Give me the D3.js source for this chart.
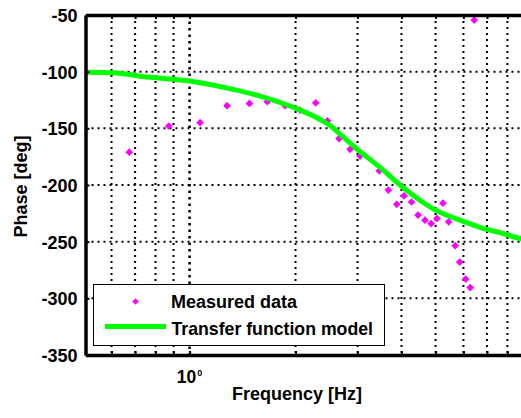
<!DOCTYPE html>
<html>
<head>
<meta charset="utf-8">
<script src="https://cdn.jsdelivr.net/npm/d3@7"></script>
<style>
  html, body { margin: 0; padding: 0; background: #fff; overflow: hidden; }
  svg { display: block; }
  text { font-family: "Liberation Sans", Arial, sans-serif; font-weight: bold; fill: #000; }
</style>
</head>
<body>
<svg id="chart" width="521" height="418"></svg>
<script>
// ---- data ----
const measuredFreq = [0.674, 0.873, 1.071, 1.278, 1.479, 1.663, 1.868, 2.06, 2.283, 2.464, 2.659, 2.858, 3.051,
  3.46, 3.671, 3.879, 4.069, 4.273, 4.458, 4.667, 4.855, 5.047, 5.248, 5.449, 5.686, 5.856, 6.09, 6.272, 6.44];
const measuredPhase = [-171, -148, -145, -130, -128, -126.5, -130, -134, -127.5, -143.5, -159, -168.5, -174.5,
  -187.5, -204.5, -217, -209.5, -215, -226.5, -231, -234, -229.5, -216, -232.5, -253.5, -268, -283, -290.5, -54.5];

const modelFreq = [0.506, 0.6, 0.772, 1.0, 1.329, 1.586, 2.003, 2.349, 2.507, 2.73, 2.952, 3.477, 3.963,
  4.516, 4.982, 5.868, 6.689, 7.62, 8.746, 10];
const modelPhase = [-100.5, -101, -105, -108.2, -115.6, -121.5, -132.3, -142.2, -147.5, -157.6, -166.9, -184.5, -200,
  -213.5, -222, -231, -237.3, -242, -247.5, -251];

const yTicks = [-50, -100, -150, -200, -250, -300, -350];
const xMinorGrid = [0.6, 0.7, 0.8, 0.9, 2, 3, 4, 5, 6, 7, 8, 9];
const xMajorGrid = [1, 10];
const seriesLabels = ["Measured data", "Transfer function model"];
const xLabel = "Frequency [Hz]";
const yLabel = "Phase [deg]";

// ---- scales ----
const pLeft = 85.5, pTop = 15, pBottom = 355, pRight = 541.5;
const x = d3.scaleLog().domain([0.506, 10]).range([pLeft, pRight]);
const y = d3.scaleLinear().domain([-350, -50]).range([pBottom, pTop]);

const svg = d3.select("#chart");

svg.append("defs").append("clipPath").attr("id", "clip")
  .append("rect").attr("x", pLeft).attr("y", pTop).attr("width", pRight - pLeft).attr("height", pBottom - pTop);

const plot = svg.append("g");

// ---- grid ----
const grid = plot.append("g").attr("clip-path", "url(#clip)");
grid.selectAll(".hg").data(yTicks.filter(v => v > -350 && v < -50)).enter().append("line")
  .attr("x1", pLeft).attr("x2", pRight).attr("y1", d => y(d)).attr("y2", d => y(d))
  .attr("stroke", "#000").attr("stroke-width", 2).attr("stroke-dasharray", "2,4");
grid.selectAll(".vg").data(xMinorGrid).enter().append("line")
  .attr("x1", d => x(d)).attr("x2", d => x(d)).attr("y1", pTop).attr("y2", pBottom)
  .attr("stroke", "#000").attr("stroke-width", 2).attr("stroke-dasharray", "2,4");
grid.selectAll(".vmg").data(xMajorGrid).enter().append("line")
  .attr("x1", d => x(d)).attr("x2", d => x(d)).attr("y1", pTop).attr("y2", pBottom)
  .attr("stroke", "#000").attr("stroke-width", 2.6).attr("stroke-dasharray", "2.5,4");

// ---- measured points ----
const sym = d3.symbol().type(d3.symbolSquare).size(30);
const pts = measuredFreq.map((f, i) => ({ f, p: measuredPhase[i] }));
plot.append("g").attr("clip-path", "url(#clip)").selectAll("path").data(pts).enter().append("path")
  .attr("d", sym)
  .attr("transform", d => `translate(${x(d.f)},${y(d.p)}) rotate(45)`)
  .attr("fill", "#ff00ff");

// ---- model line ----
const modelPts = modelFreq.map((f, i) => ({ f, p: modelPhase[i] }));
const line = d3.line().x(d => x(d.f)).y(d => y(d.p)).curve(d3.curveMonotoneX);
plot.append("path").attr("clip-path", "url(#clip)").datum(modelPts)
  .attr("d", line).attr("fill", "none").attr("stroke", "#00ff00").attr("stroke-width", 5);

// ---- axes ----
const xAxisB = d3.axisBottom(x).tickValues(xMinorGrid.concat(xMajorGrid)).tickSizeInner(-4).tickSizeOuter(0).tickFormat("");
const gxb = svg.append("g").attr("transform", `translate(0,${pBottom})`).call(xAxisB);
const xAxisT = d3.axisTop(x).tickValues(xMinorGrid.concat(xMajorGrid)).tickSizeInner(-4).tickSizeOuter(0).tickFormat("");
const gxt = svg.append("g").attr("transform", `translate(0,${pTop})`).call(xAxisT);
const yAxis = d3.axisLeft(y).tickValues(yTicks).tickSizeInner(-4).tickSizeOuter(0).tickFormat(d => String(d)).tickPadding(9);
const gy = svg.append("g").attr("transform", `translate(${pLeft},0)`).call(yAxis);

[gxb, gxt, gy].forEach(g => {
  g.select(".domain").attr("stroke", "#000").attr("stroke-width", 3.5);
  g.selectAll(".tick line").attr("stroke", "#000").attr("stroke-width", 2);
});
gy.selectAll(".tick text").attr("font-size", 18).attr("font-weight", "bold")
  .attr("font-family", '"Liberation Sans", Arial, sans-serif').attr("fill", "#000").attr("dy", "0.36em").attr("x", -8);

// 10^0 label
const lbl = svg.append("text").attr("x", x(1) - 12.8).attr("y", 383).attr("font-size", 17.5);
lbl.append("tspan").text("10");
lbl.append("tspan").attr("font-size", 9).attr("dy", -7).attr("dx", 1).text("0");

// axis labels
svg.append("text").attr("x", 297).attr("y", 400).attr("text-anchor", "middle").attr("font-size", 18).text(xLabel);
svg.append("text").attr("transform", "translate(26.5,186.5) rotate(-90)").attr("text-anchor", "middle")
  .attr("font-size", 18).text(yLabel);

// ---- legend ----
const lg = svg.append("g");
lg.append("rect").attr("x", 93.5).attr("y", 284.5).attr("width", 291).attr("height", 61)
  .attr("fill", "#fff").attr("stroke", "#000").attr("stroke-width", 1);
lg.append("path").attr("d", d3.symbol().type(d3.symbolSquare).size(22))
  .attr("transform", "translate(135.5,301.5) rotate(45)").attr("fill", "#ff00ff");
lg.append("line").attr("x1", 105).attr("x2", 166).attr("y1", 326.5).attr("y2", 326.5)
  .attr("stroke", "#00ff00").attr("stroke-width", 5);
lg.append("text").attr("x", 171).attr("y", 308).attr("font-size", 18).text(seriesLabels[0]);
lg.append("text").attr("x", 171.5).attr("y", 334.5).attr("font-size", 17.7).text(seriesLabels[1]);
</script>
</body>
</html>
